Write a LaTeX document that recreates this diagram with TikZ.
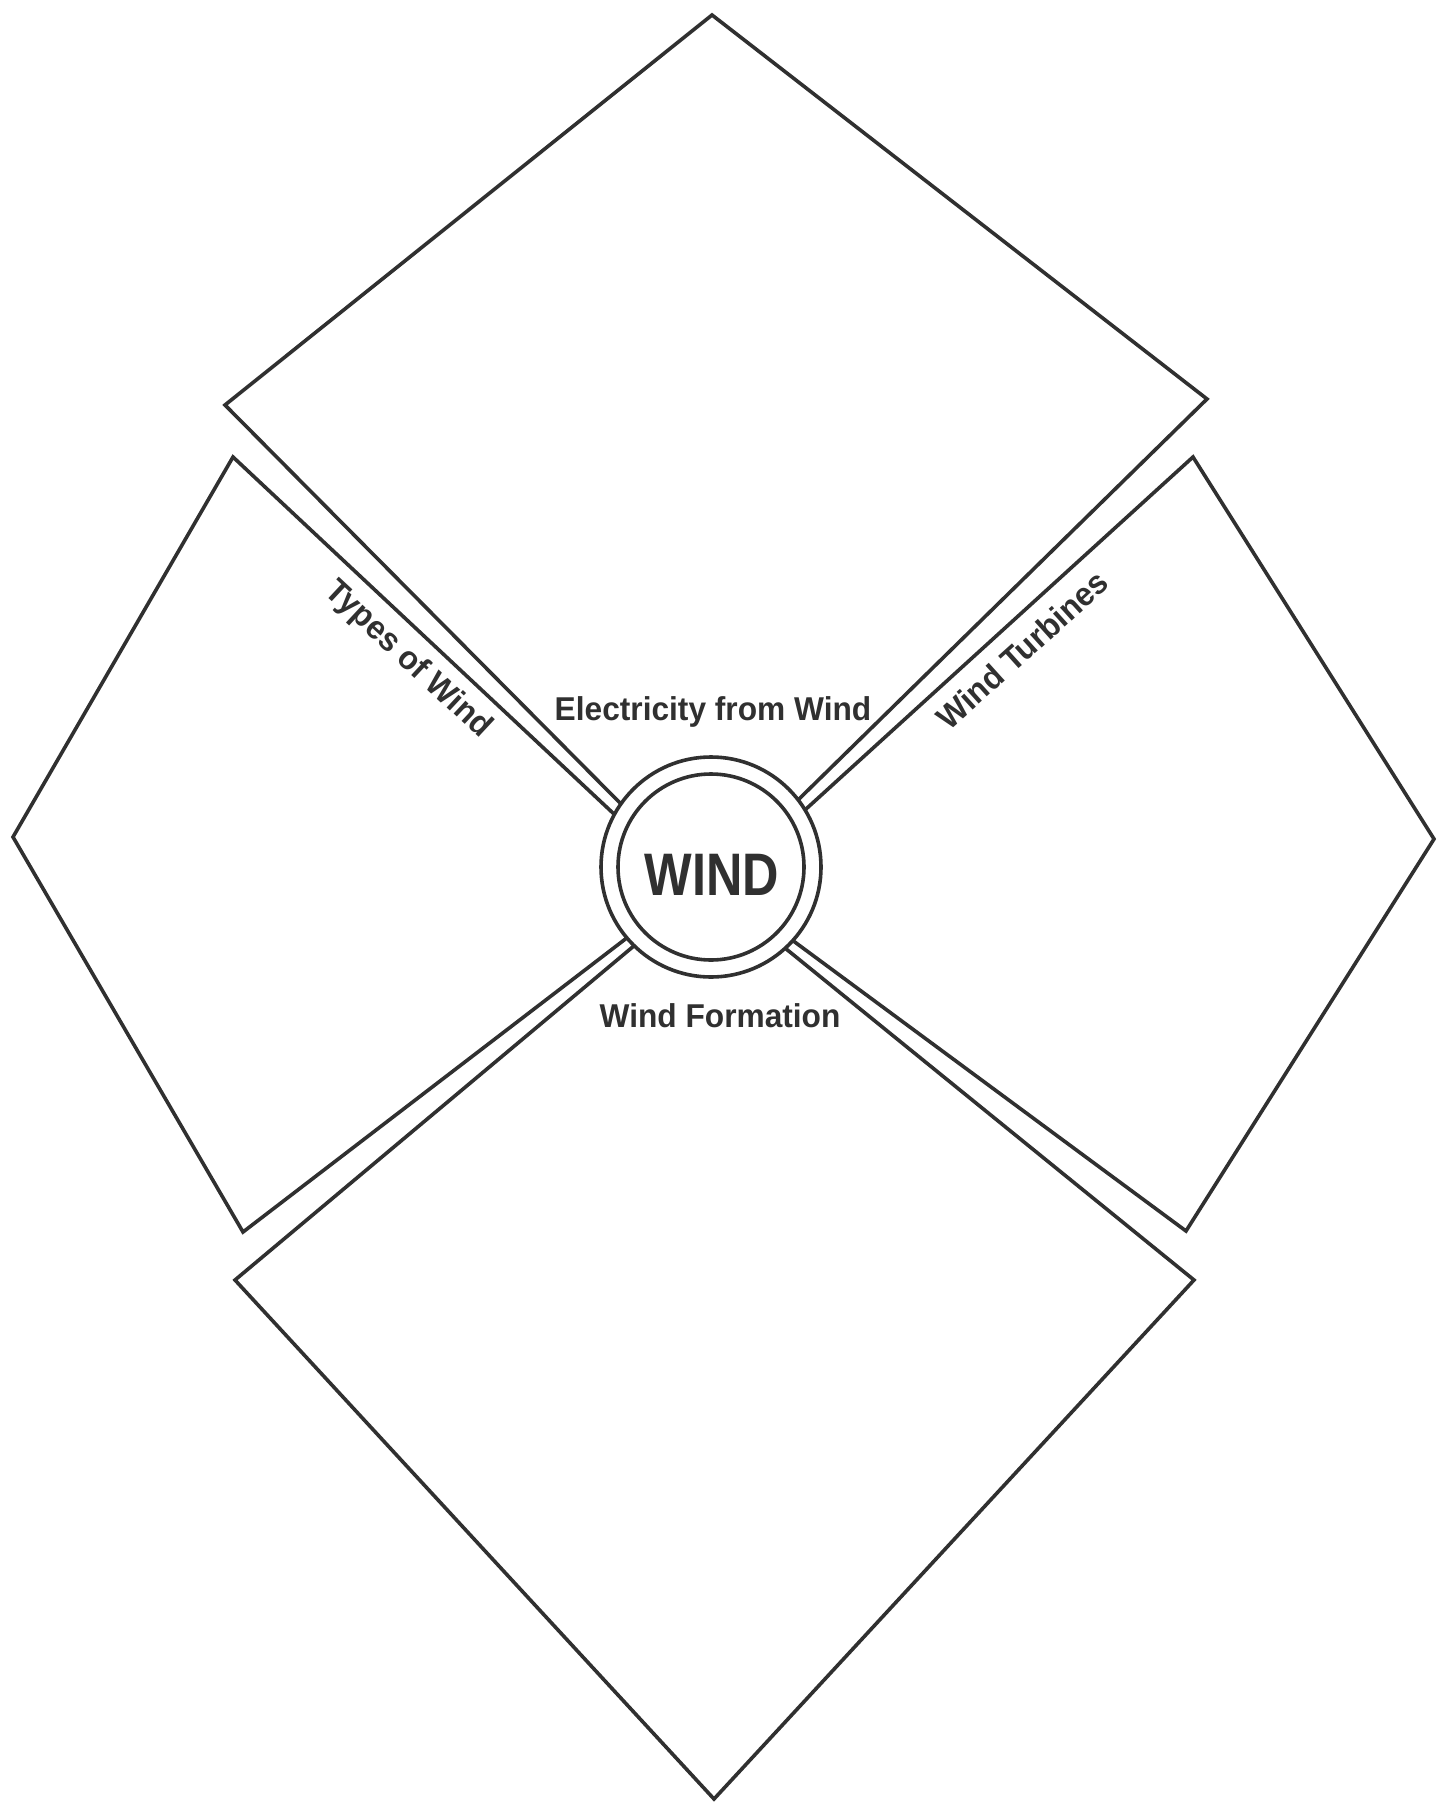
\documentclass[tikz,border=0pt]{standalone}
\usepackage{fontspec}
\setmainfont{Liberation Sans}
\definecolor{ink}{HTML}{303030}
\begin{document}
\begin{tikzpicture}[x=0.5pt,y=-0.5pt,
  panel/.style={draw=ink,line width=1.8pt,line join=miter,miter limit=20},
  ring/.style={draw=ink,line width=1.8pt},
  lbl/.style={text=ink,font=\fontsize{16.5}{18}\selectfont\bfseries,inner sep=0pt}]
\fill[white] (0,0) rectangle (1436,1803);
\useasboundingbox (0,0) rectangle (1436,1803);
% four panels (inner tips hidden under the central disc)
\draw[panel] (712,15) -- (1207,399) -- (706.3,889.9) -- (225,405) -- cycle;
\draw[panel] (233,457) -- (13,837) -- (243,1232) -- (692.5,887.6) -- cycle;
\draw[panel] (1193,457) -- (1434,839) -- (1186,1231) -- (720.3,887) -- cycle;
\draw[panel] (235,1280) -- (714,1799) -- (1194,1280) -- (707,884.7) -- cycle;
% central double ring
\draw[ring,fill=white] (711,867) circle[radius=110];
\draw[ring] (711,867) circle[radius=93];
\node[text=ink,inner sep=0pt,font=\fontsize{30}{32}\selectfont\bfseries] (wind) at (712,875) {\scalebox{0.84}[1]{WIND}};
% labels
\node[lbl,anchor=base] (elec) at (713,720) {\scalebox{0.96}[1]{Electricity from Wind}};
\node[lbl,anchor=base] (form) at (720,1027) {\scalebox{0.96}[1]{Wind Formation}};
\node[lbl,rotate=-43] (types) at (408,660) {\scalebox{0.96}[1]{Types of Wind}};
\node[lbl,rotate=42] (turb) at (1022,650) {\scalebox{0.96}[1]{Wind Turbines}};
\end{tikzpicture}
\end{document}
